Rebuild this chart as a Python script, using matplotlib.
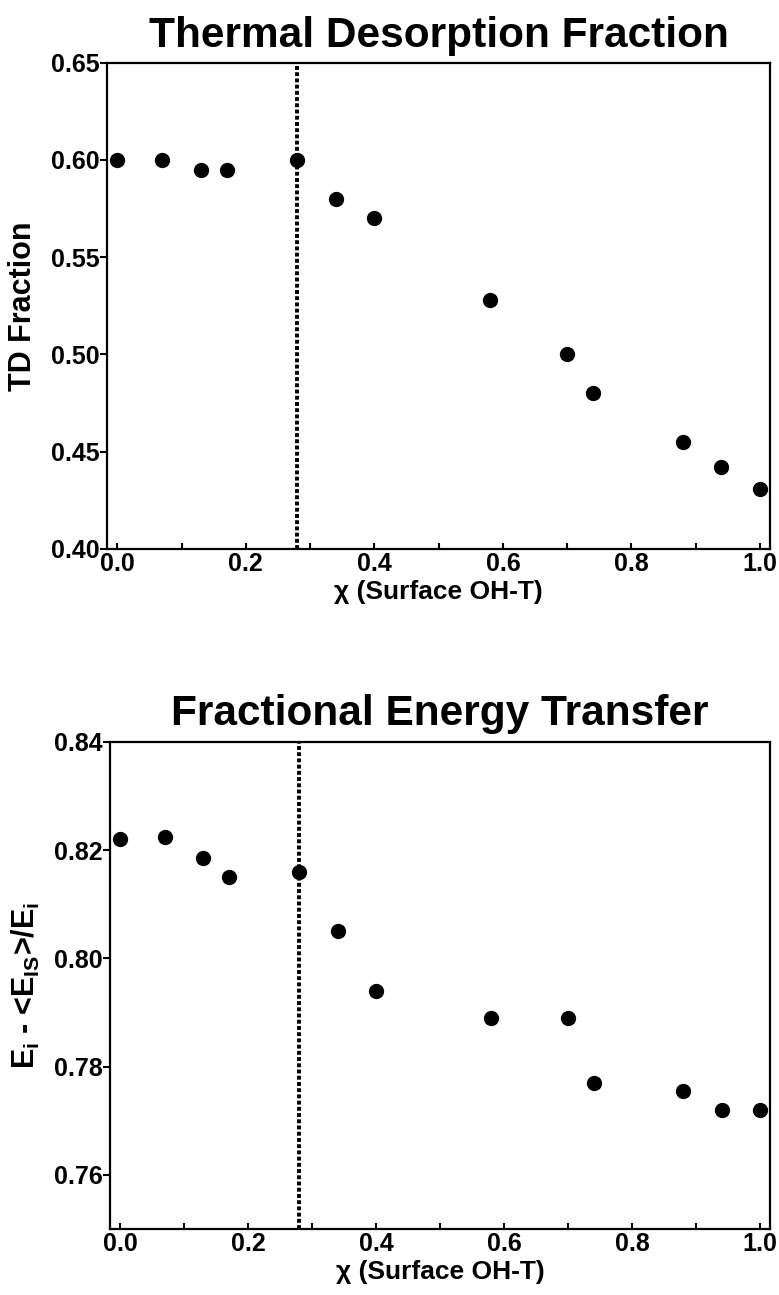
import numpy as np
import matplotlib
matplotlib.use("Agg")
import matplotlib.pyplot as plt
from matplotlib.ticker import MultipleLocator, FormatStrFormatter

plt.rcParams['font.family'] = ['Liberation Sans', 'DejaVu Sans']
plt.rcParams['font.weight'] = 'bold'
plt.rcParams['axes.titleweight'] = 'bold'
plt.rcParams['axes.labelweight'] = 'bold'
plt.rcParams['mathtext.fontset'] = 'custom'
plt.rcParams['mathtext.bf'] = 'Liberation Sans:bold'
plt.rcParams['mathtext.rm'] = 'Liberation Sans:bold'

# surface OH-terminated fraction
chi = [0.0, 0.07, 0.13, 0.17, 0.28, 0.34, 0.40, 0.58, 0.70, 0.74, 0.88, 0.94, 1.0]
# thermal desorption fraction
td_frac = [0.600, 0.600, 0.595, 0.595, 0.600, 0.580, 0.570, 0.528, 0.500, 0.480, 0.455, 0.442, 0.431]
# fractional energy transfer
e_frac = [0.822, 0.8225, 0.8185, 0.815, 0.816, 0.805, 0.794, 0.789, 0.789, 0.777, 0.7755, 0.772, 0.772]
chi_cut = 0.28

fig = plt.figure(figsize=(7.79, 12.95), dpi=100)
ax1 = fig.add_axes([0.1374, 0.5761, 0.851, 0.3755])
ax2 = fig.add_axes([0.1412, 0.0510, 0.8472, 0.3761])

def style(ax, ylim, ymaj):
    ax.set_xlim(-0.016, 1.0156)
    ax.set_ylim(*ylim)
    ax.xaxis.set_major_locator(MultipleLocator(0.2))
    ax.xaxis.set_minor_locator(MultipleLocator(0.1))
    ax.yaxis.set_major_locator(MultipleLocator(ymaj))
    ax.yaxis.set_major_formatter(FormatStrFormatter('%.2f'))
    ax.xaxis.set_major_formatter(FormatStrFormatter('%.1f'))
    ax.tick_params(axis='y', which='major', direction='out', length=5, width=1.5,
                   labelsize=18, pad=0)
    ax.tick_params(axis='x', which='both', direction='in', length=4, width=1.5,
                   labelsize=18, pad=2)
    for s in ax.spines.values():
        s.set_linewidth(1.6)
    ax.set_xlabel('χ (Surface OH-T)', fontsize=19, labelpad=3)

ax1.plot(chi, td_frac, 'o', color='black', ms=10)
ax1.axvline(chi_cut, color='black', lw=2.8, ls=(0, (1, 0.6)))
style(ax1, (0.40, 0.65), 0.05)
ax1.set_ylabel('TD Fraction', fontsize=22, labelpad=10)
ax1.set_title('Thermal Desorption Fraction', fontsize=30.5, pad=11)

ax2.plot(chi, e_frac, 'o', color='black', ms=10)
ax2.axvline(chi_cut, color='black', lw=2.8, ls=(0, (1, 0.6)))
style(ax2, (0.75, 0.84), 0.02)
ax2.set_ylabel(r'E$_\mathbf{i}$ - <E$_\mathbf{IS}$>/E$_\mathbf{i}$', fontsize=22, labelpad=9)
ax2.set_title('Fractional Energy Transfer', fontsize=30.5, pad=12)

fig.savefig('out.png', dpi=100)
